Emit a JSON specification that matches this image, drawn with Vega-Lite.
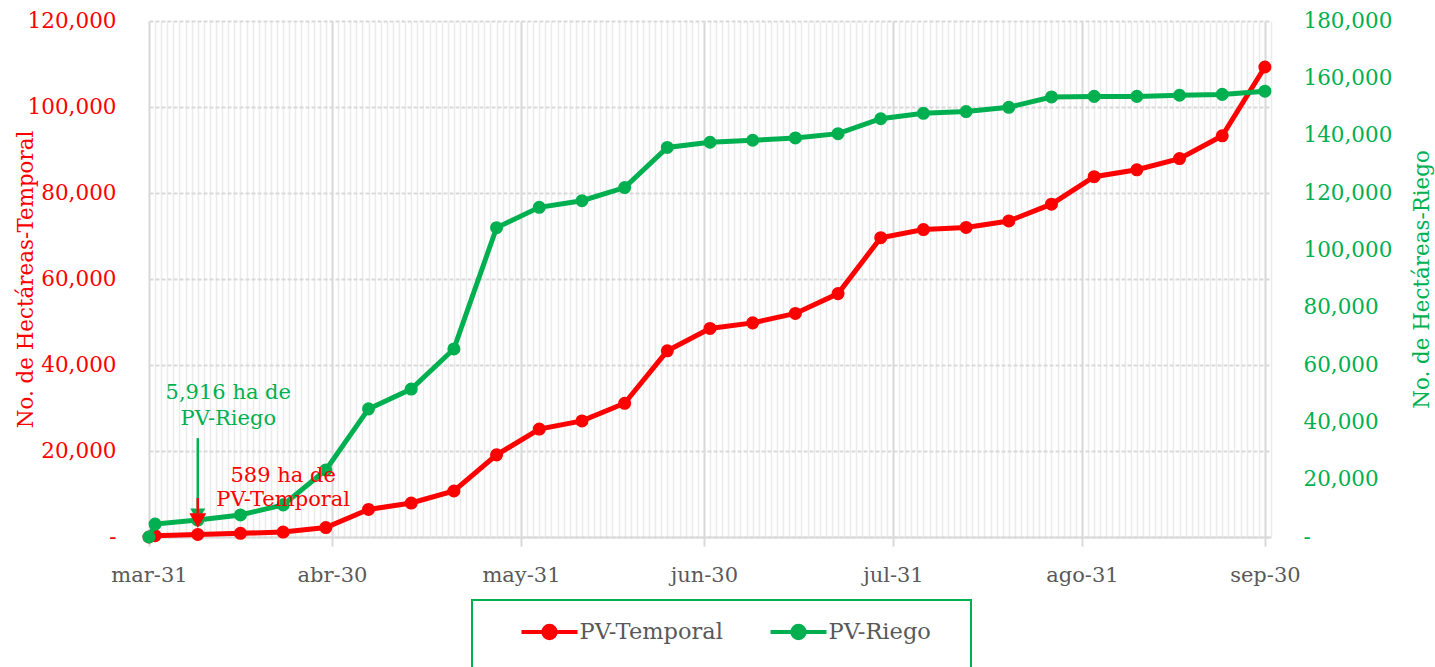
{
  "$schema": "https://vega.github.io/schema/vega-lite/v6.json",
  "width": 1122,
  "height": 516,
  "autosize": {"type": "none"},
  "padding": {"left": 149, "top": 21, "right": 164, "bottom": 130},
  "config": {"font": "DejaVu Serif", "view": {"stroke": null}},
  "datasets": {
    "series": [
      {"date": "2023/03/31", "series": "PV-Temporal", "value": 0},
      {"date": "2023/04/01", "series": "PV-Temporal", "value": 300},
      {"date": "2023/04/08", "series": "PV-Temporal", "value": 589},
      {"date": "2023/04/15", "series": "PV-Temporal", "value": 850},
      {"date": "2023/04/22", "series": "PV-Temporal", "value": 1150},
      {"date": "2023/04/29", "series": "PV-Temporal", "value": 2200},
      {"date": "2023/05/06", "series": "PV-Temporal", "value": 6400},
      {"date": "2023/05/13", "series": "PV-Temporal", "value": 7900},
      {"date": "2023/05/20", "series": "PV-Temporal", "value": 10700},
      {"date": "2023/05/27", "series": "PV-Temporal", "value": 19100},
      {"date": "2023/06/03", "series": "PV-Temporal", "value": 25100},
      {"date": "2023/06/10", "series": "PV-Temporal", "value": 27000},
      {"date": "2023/06/17", "series": "PV-Temporal", "value": 31100},
      {"date": "2023/06/24", "series": "PV-Temporal", "value": 43300},
      {"date": "2023/07/01", "series": "PV-Temporal", "value": 48500},
      {"date": "2023/07/08", "series": "PV-Temporal", "value": 49800},
      {"date": "2023/07/15", "series": "PV-Temporal", "value": 52000},
      {"date": "2023/07/22", "series": "PV-Temporal", "value": 56600},
      {"date": "2023/07/29", "series": "PV-Temporal", "value": 69600},
      {"date": "2023/08/05", "series": "PV-Temporal", "value": 71500},
      {"date": "2023/08/12", "series": "PV-Temporal", "value": 72000},
      {"date": "2023/08/19", "series": "PV-Temporal", "value": 73500},
      {"date": "2023/08/26", "series": "PV-Temporal", "value": 77400},
      {"date": "2023/09/02", "series": "PV-Temporal", "value": 83800},
      {"date": "2023/09/09", "series": "PV-Temporal", "value": 85400},
      {"date": "2023/09/16", "series": "PV-Temporal", "value": 88000},
      {"date": "2023/09/23", "series": "PV-Temporal", "value": 93300},
      {"date": "2023/09/30", "series": "PV-Temporal", "value": 109300},
      {"date": "2023/03/31", "series": "PV-Riego", "value": 0},
      {"date": "2023/04/01", "series": "PV-Riego", "value": 4500},
      {"date": "2023/04/08", "series": "PV-Riego", "value": 5916},
      {"date": "2023/04/15", "series": "PV-Riego", "value": 7700},
      {"date": "2023/04/22", "series": "PV-Riego", "value": 11200},
      {"date": "2023/04/29", "series": "PV-Riego", "value": 23400},
      {"date": "2023/05/06", "series": "PV-Riego", "value": 44700},
      {"date": "2023/05/13", "series": "PV-Riego", "value": 51600},
      {"date": "2023/05/20", "series": "PV-Riego", "value": 65600},
      {"date": "2023/05/27", "series": "PV-Riego", "value": 107900},
      {"date": "2023/06/03", "series": "PV-Riego", "value": 115000},
      {"date": "2023/06/10", "series": "PV-Riego", "value": 117300},
      {"date": "2023/06/17", "series": "PV-Riego", "value": 121900},
      {"date": "2023/06/24", "series": "PV-Riego", "value": 135900},
      {"date": "2023/07/01", "series": "PV-Riego", "value": 137700},
      {"date": "2023/07/08", "series": "PV-Riego", "value": 138400},
      {"date": "2023/07/15", "series": "PV-Riego", "value": 139200},
      {"date": "2023/07/22", "series": "PV-Riego", "value": 140700},
      {"date": "2023/07/29", "series": "PV-Riego", "value": 145900},
      {"date": "2023/08/05", "series": "PV-Riego", "value": 147800},
      {"date": "2023/08/12", "series": "PV-Riego", "value": 148400},
      {"date": "2023/08/19", "series": "PV-Riego", "value": 149900},
      {"date": "2023/08/26", "series": "PV-Riego", "value": 153500},
      {"date": "2023/09/02", "series": "PV-Riego", "value": 153700},
      {"date": "2023/09/09", "series": "PV-Riego", "value": 153700},
      {"date": "2023/09/16", "series": "PV-Riego", "value": 154100},
      {"date": "2023/09/23", "series": "PV-Riego", "value": 154400},
      {"date": "2023/09/30", "series": "PV-Riego", "value": 155500}
    ],
    "notes": [
      {"kind": "text", "series": "PV-Riego", "date": "2023/04/13", "value": 50230, "label": "5,916 ha de\nPV-Riego"},
      {"kind": "arrow", "series": "PV-Riego", "date": "2023/04/08", "value": 34500, "value2": 10100},
      {"kind": "head", "series": "PV-Riego", "date": "2023/04/08", "value": 7700},
      {"kind": "text", "series": "PV-Temporal", "date": "2023/04/22", "value": 14190, "label": "589 ha de\nPV-Temporal"},
      {"kind": "arrow", "series": "PV-Temporal", "date": "2023/04/08", "value": 9070, "value2": 5580},
      {"kind": "head", "series": "PV-Temporal", "date": "2023/04/08", "value": 3840}
    ]
  },
  "layer": [
    {
      "data": {"name": "series"},
      "transform": [{"filter": "datum.series === 'PV-Temporal'"}],
      "mark": {"type": "line", "strokeWidth": 5, "point": {"filled": true, "size": 170}},
      "encoding": {
        "x": {
          "field": "date", "type": "temporal",
          "scale": {"domain": [{"year": 2023, "month": 3, "date": 31}, {"year": 2023, "month": 10, "date": 1}]},
          "axis": {"orient": "top", "tickCount": {"interval": "day", "step": 1}, "grid": true, "gridColor": "#ebebeb", "gridWidth": 1.5, "labels": false, "ticks": false, "domain": false, "title": null}
        },
        "y": {
          "field": "value", "type": "quantitative",
          "scale": {"domain": [0, 120000], "nice": false},
          "axis": {
            "orient": "left",
            "values": [0, 20000, 40000, 60000, 80000, 100000, 120000],
            "labelExpr": "datum.value === 0 ? '-' : format(datum.value, ',')",
            "labelColor": "#ff0000", "labelFontSize": 21.5, "labelPadding": 33,
            "ticks": false, "domain": false,
            "grid": true, "gridColor": "#d9d9d9", "gridDash": [4, 2], "gridWidth": 2,
            "title": "No. de Hectáreas-Temporal", "titleColor": "#ff0000", "titleFontSize": 21.4, "titleFontWeight": "normal",
            "titleAngle": 270, "titleX": -123, "titleY": 258, "titleBaseline": "middle", "titleAlign": "center"
          }
        },
        "color": {
          "field": "series", "type": "nominal",
          "scale": {"domain": ["PV-Temporal", "PV-Riego"], "range": ["#ff0000", "#00b050"]},
          "legend": {
            "orient": "none", "legendX": 323, "legendY": 579, "direction": "horizontal", "title": null,
            "strokeColor": "#00b050", "padding": 2, "columnPadding": -7,
            "symbolType": "M-2.66,-1.036M-1,0L1,0M0.22,0A0.22,0.22,0,1,1,-0.22,0A0.22,0.22,0,1,1,0.22,0M5.8,2.25",
            "symbolSize": 3136, "symbolStrokeWidth": 4, "symbolOffset": 45.5, "labelOffset": 0,
            "labelFontSize": 22.5, "labelColor": "#595959",
            "encode": {
              "symbols": {"update": {"fill": {"scale": "color", "field": "value"}, "stroke": {"scale": "color", "field": "value"}, "strokeWidth": {"value": 4}}},
              "legend": {"update": {"strokeWidth": {"value": 2}}}
            }
          }
        }
      }
    },
    {
      "data": {"name": "series"},
      "transform": [{"filter": "datum.series === 'PV-Riego'"}],
      "mark": {"type": "line", "strokeWidth": 5, "point": {"filled": true, "size": 170}},
      "encoding": {
        "x": {
          "field": "date", "type": "temporal",
          "axis": {
            "orient": "bottom",
            "values": [
              {"year": 2023, "month": 3, "date": 31},
              {"year": 2023, "month": 4, "date": 30},
              {"year": 2023, "month": 5, "date": 31},
              {"year": 2023, "month": 6, "date": 30},
              {"year": 2023, "month": 7, "date": 31},
              {"year": 2023, "month": 8, "date": 31},
              {"year": 2023, "month": 9, "date": 30}
            ],
            "labelExpr": "['ene','feb','mar','abr','may','jun','jul','ago','sep','oct','nov','dic'][month(datum.value)] + '-' + date(datum.value)",
            "grid": true, "gridColor": "#d9d9d9", "gridWidth": 2,
            "tickColor": "#d9d9d9", "tickWidth": 2, "tickSize": 9,
            "domainColor": "#d9d9d9", "domainWidth": 2,
            "labelColor": "#595959", "labelFontSize": 21, "labelPadding": 18,
            "labelFlush": false, "labelOverlap": false, "title": null
          }
        },
        "y": {
          "field": "value", "type": "quantitative",
          "scale": {"domain": [0, 180000], "nice": false},
          "axis": {
            "orient": "right",
            "values": [0, 20000, 40000, 60000, 80000, 100000, 120000, 140000, 160000, 180000],
            "labelExpr": "datum.value === 0 ? '-' : format(datum.value, ',')",
            "labelColor": "#00b050", "labelFontSize": 21.5, "labelPadding": 32,
            "ticks": false, "domain": false, "grid": false,
            "title": "No. de Hectáreas-Riego", "titleColor": "#00b050", "titleFontSize": 21.4, "titleFontWeight": "normal",
            "titleAngle": 270, "titleX": 151, "titleY": 258, "titleBaseline": "middle", "titleAlign": "center"
          }
        },
        "color": {"field": "series", "type": "nominal"}
      }
    },
    {
      "data": {"name": "notes"},
      "transform": [{"filter": "datum.series === 'PV-Riego'"}],
      "encoding": {
        "x": {"field": "date", "type": "temporal", "axis": null},
        "y": {"field": "value", "type": "quantitative", "scale": {"domain": [0, 180000], "nice": false}, "axis": null}
      },
      "layer": [
        {"transform": [{"filter": "datum.kind === 'arrow'"}], "mark": {"type": "rule", "color": "#00b050", "strokeWidth": 2.5}, "encoding": {"y2": {"field": "value2"}}},
        {"transform": [{"filter": "datum.kind === 'head'"}], "mark": {"type": "point", "filled": true, "opacity": 1, "color": "#00b050", "shape": "M-1,-0.85L1,-0.85L0,0.85Z", "size": 225}},
        {"transform": [{"filter": "datum.kind === 'text'"}], "mark": {"type": "text", "color": "#00b050", "fontSize": 21, "lineBreak": "\n", "lineHeight": 25.5, "align": "center", "baseline": "middle"}, "encoding": {"text": {"field": "label"}}}
      ]
    },
    {
      "data": {"name": "notes"},
      "transform": [{"filter": "datum.series === 'PV-Temporal'"}],
      "encoding": {
        "x": {"field": "date", "type": "temporal", "axis": null},
        "y": {"field": "value", "type": "quantitative", "scale": {"domain": [0, 120000], "nice": false}, "axis": null}
      },
      "layer": [
        {"transform": [{"filter": "datum.kind === 'arrow'"}], "mark": {"type": "rule", "color": "#ff0000", "strokeWidth": 2.5}, "encoding": {"y2": {"field": "value2"}}},
        {"transform": [{"filter": "datum.kind === 'head'"}], "mark": {"type": "point", "filled": true, "opacity": 1, "color": "#ff0000", "shape": "M-1,-0.85L1,-0.85L0,0.85Z", "size": 289}},
        {"transform": [{"filter": "datum.kind === 'text'"}], "mark": {"type": "text", "color": "#ff0000", "fontSize": 21, "lineBreak": "\n", "lineHeight": 24.5, "align": "center", "baseline": "middle"}, "encoding": {"text": {"field": "label"}}}
      ]
    }
  ],
  "resolve": {"scale": {"y": "independent"}, "axis": {"x": "independent"}}
}
